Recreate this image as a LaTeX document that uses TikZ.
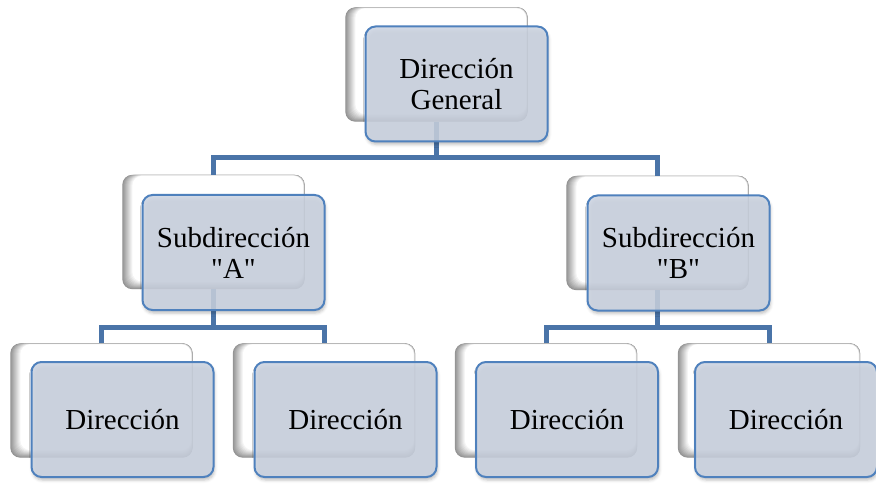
\documentclass[tikz,border=0pt]{standalone}
\usepackage{fontspec}
\setmainfont{Liberation Serif}[Ligatures=TeXOff]
\usetikzlibrary{shadows.blur,calc}
\definecolor{connc}{RGB}{74,116,168}
\definecolor{frontfill}{RGB}{205,213,227}
\definecolor{frontline}{RGB}{79,129,189}
\tikzset{
  backbox/.style={rectangle, rounded corners=10pt, minimum width=182pt, minimum height=114pt,
    inner sep=0pt, fill=black!12},
  frontbox/.style={rectangle, rounded corners=10pt, minimum width=182pt, minimum height=115pt,
    inner sep=0pt, fill=frontfill, fill opacity=0.85, text opacity=1, draw=frontline,
    line width=2pt, align=center, font=\fontsize{29}{31}\selectfont,
    blur shadow={shadow xshift=1pt, shadow yshift=-3pt, shadow blur radius=3pt, shadow opacity=30}},
  connline/.style={draw=connc, line width=5pt}
}
\begin{document}
\begin{tikzpicture}[x=1pt,y=-1pt]
\useasboundingbox (0,0) rectangle (876,484);
% back boxes
\node[backbox] (gb) at (436.5,64.5) {};
\node[backbox] (ab) at (213.5,232) {};
\node[backbox] (bb) at (657.5,233) {};
\node[backbox] (a1b) at (101.5,400.5) {};
\node[backbox] (a2b) at (324,400.5) {};
\node[backbox] (b1b) at (546,400.5) {};
\node[backbox] (b2b) at (769,400.5) {};
% bevel shading of the back boxes
\foreach \n in {gb,ab,bb,a1b,a2b,b1b,b2b}{
  \foreach \i in {0,...,10}{
    \pgfmathsetmacro\q{(10-\i)*4.2}
    \fill[black!\q, rounded corners=10pt]
      ($(\n.north west)+(\i,0.1*\i)$) rectangle ($(\n.south east)+(-0.15*\i,-0.75*\i)$);
  }
}
% junction levels
\coordinate (j0) at (0,158);
\coordinate (j1) at (0,327);
% connectors
\draw[connline] (gb.south) -- (gb.south |- j0);
\draw[connline] (ab.north) |- (gb.south |- j0) -| (bb.north);
\draw[connline] (ab.south) -- (ab.south |- j1);
\draw[connline] (a1b.north) |- (ab.south |- j1) -| (a2b.north);
\draw[connline] (bb.south) -- (bb.south |- j1);
\draw[connline] (b1b.north) |- (bb.south |- j1) -| (b2b.north);
% front boxes
\node[frontbox] (g) at (456.5,84) {Dirección\\General};
\node[frontbox] (a) at (233.5,252.5) {Subdirección\\"A"};
\node[frontbox] (b) at (678.5,253) {Subdirección\\"B"};
\node[frontbox] (a1) at (122.5,419.5) {Dirección};
\node[frontbox] (a2) at (345.5,419.5) {Dirección};
\node[frontbox] (b1) at (567,419.5) {Dirección};
\node[frontbox] (b2) at (786,419.5) {Dirección};
\end{tikzpicture}
\end{document}
